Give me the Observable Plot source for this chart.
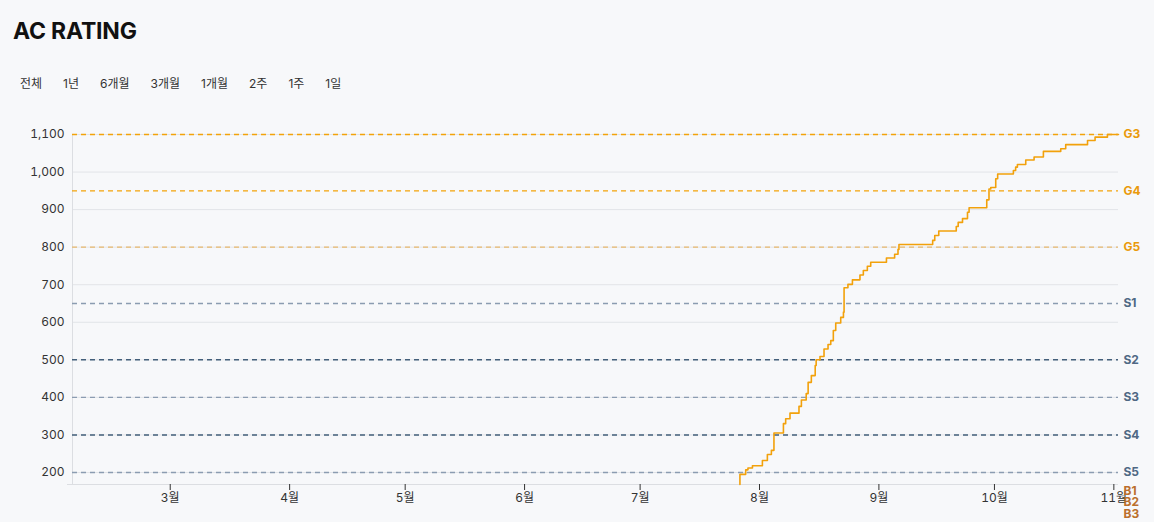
<!DOCTYPE html>
<html>
<head>
<meta charset="utf-8">
<script src="https://cdn.jsdelivr.net/npm/d3@7"></script>
<script src="https://cdn.jsdelivr.net/npm/@observablehq/plot@0.6"></script>
<style>
  html, body { margin: 0; padding: 0; background: #f7f8fa; overflow: hidden; }
  body { width: 1154px; height: 522px; position: relative; font-family: Inter, "Noto Sans CJK KR", sans-serif; color: #222; }
  #title { position: absolute; left: 13px; top: 20px; font-size: 23px; font-weight: 700; line-height: 1; letter-spacing: -0.2px; color: #111; }
  #tabs { position: absolute; left: 20px; top: 78px; display: flex; gap: 21px; font-size: 12px; line-height: 1; color: #333; }
  #chart { position: absolute; left: 0; top: 110px; }
  #chart svg { overflow: visible; }
</style>
</head>
<body>
<div id="title">AC RATING</div>
<div id="tabs"></div>
<div id="chart"></div>
<script>
// Range tabs
const tabLabels = ["전체", "1년", "6개월", "3개월", "1개월", "2주", "1주", "1일"];

// Rating history (step changes)
const dates = [
  "2023-07-26T22:00", "2023-07-26T22:00", "2023-07-28T10:00", "2023-07-29T00:00", "2023-07-30T04:00",
  "2023-08-01T18:00", "2023-08-03T01:00", "2023-08-04T02:00", "2023-08-04T18:00", "2023-08-07T05:00",
  "2023-08-07T19:00", "2023-08-08T22:00", "2023-08-11T06:00", "2023-08-11T21:00", "2023-08-13T03:00",
  "2023-08-13T15:00", "2023-08-14T11:00", "2023-08-15T11:00", "2023-08-15T17:00", "2023-08-16T17:00",
  "2023-08-17T18:00", "2023-08-18T19:00", "2023-08-19T12:00", "2023-08-20T04:00", "2023-08-20T19:00",
  "2023-08-22T02:00", "2023-08-22T19:00", "2023-08-22T23:00", "2023-08-23T23:00", "2023-08-25T03:00",
  "2023-08-27T02:00", "2023-08-27T23:00", "2023-08-29T00:00", "2023-08-29T21:00", "2023-09-02T23:00",
  "2023-09-05T02:00", "2023-09-05T23:00", "2023-09-06T05:00", "2023-09-14T23:00", "2023-09-15T12:00",
  "2023-09-16T13:00", "2023-09-21T02:00", "2023-09-21T14:00", "2023-09-22T17:00", "2023-09-24T00:00",
  "2023-09-24T10:00", "2023-09-29T00:00", "2023-09-29T14:00", "2023-09-30T01:00", "2023-10-01T08:00",
  "2023-10-01T20:00", "2023-10-05T22:00", "2023-10-06T12:00", "2023-10-06T23:00", "2023-10-09T03:00",
  "2023-10-11T07:00", "2023-10-13T17:00", "2023-10-18T05:00", "2023-10-19T12:00", "2023-10-25T04:00",
  "2023-10-27T03:00", "2023-10-30T08:00", "2023-11-02T05:00"
];
const ratings = [
  168, 195, 207, 212, 218,
  232, 248, 259, 305, 330,
  343, 358, 376, 393, 410,
  440, 458, 485, 500, 509,
  529, 541, 551, 578, 598,
  613, 627, 692, 701, 713,
  726, 738, 749, 760, 771,
  781, 794, 807, 818, 831,
  843, 855, 866, 876, 893,
  905, 926, 955, 959, 982,
  995, 1004, 1013, 1020, 1032,
  1040, 1055, 1062, 1073, 1084,
  1093, 1100, 1100
];

// Tier thresholds
const tierNames  = ["G3", "G4", "G5", "S1", "S2", "S3", "S4", "S5", "B1", "B2", "B3"];
const tierValues = [1100, 950, 800, 650, 500, 400, 300, 200, 150, 120, 90];
const tierLineColors = ["#f3a30a", "#f3a30a", "#e6b86c", "#8b9cb1", "#435f7a", "#8b9cb1", "#435f7a", "#8b9cb1", null, null, null];
const tierLabelColors = ["#ea9a0c", "#ea9a0c", "#ea9a0c", "#4f6884", "#4f6884", "#4f6884", "#4f6884", "#4f6884", "#bb6f2c", "#bb6f2c", "#bb6f2c"];

// Axis ticks
const yTicks = [200, 300, 400, 500, 600, 700, 800, 900, 1000, 1100];

const tabs = document.getElementById("tabs");
tabLabels.forEach(t => { const s = document.createElement("span"); s.textContent = t; tabs.appendChild(s); });

const series = dates.map((d, i) => ({date: new Date(d), value: ratings[i]}));
const tiers = tierNames.map((n, i) => ({name: n, value: tierValues[i], line: tierLineColors[i], label: tierLabelColors[i]}));
const tierLines = tiers.filter(t => t.line);

const yMin = 168;
const xDomain = [new Date(2023, 1, 3, 15), new Date(2023, 10, 2, 5)];

const chart = Plot.plot({
  width: 1154,
  height: 420,
  marginTop: 24,
  marginLeft: 72,
  marginRight: 36,
  marginBottom: 46,
  style: {background: "transparent", fontFamily: "Inter, 'Noto Sans CJK KR', sans-serif", fontSize: "12px", color: "#333", overflow: "visible"},
  x: {type: "time", domain: xDomain},
  y: {domain: [yMin, 1100]},
  color: {type: "identity"},
  marks: [
    Plot.ruleY(yTicks, {stroke: "#e2e4e8", strokeWidth: 1}),
    Plot.ruleX([xDomain[0]], {stroke: "#dcdee2", strokeWidth: 1}),
    Plot.ruleY([yMin], {stroke: "#dcdee2", strokeWidth: 1, insetLeft: -5}),
    Plot.ruleY(tierLines, {y: "value", stroke: "line", strokeDasharray: "5,4", strokeWidth: 1.4}),
    Plot.axisY({ticks: yTicks, tickFormat: d3.format(","), tickSize: 0, tickPadding: 8, label: null, fill: "#333"}),
    Plot.axisX({ticks: d3.timeMonth.every(1), tickFormat: d => `${d.getMonth() + 1}월`, tickSize: 6, tickPadding: 3, label: null, stroke: "#333", fill: "#333"}),
    Plot.line(series, {x: "date", y: "value", curve: "step-after", stroke: "#f2a10b", strokeWidth: 1.6}),
    Plot.text(tiers, {y: "value", text: "name", frameAnchor: "right", textAnchor: "start", dx: 5, fill: "label", fontWeight: "bold", fontSize: 12})
  ]
});
document.getElementById("chart").appendChild(chart);
</script>
</body>
</html>
